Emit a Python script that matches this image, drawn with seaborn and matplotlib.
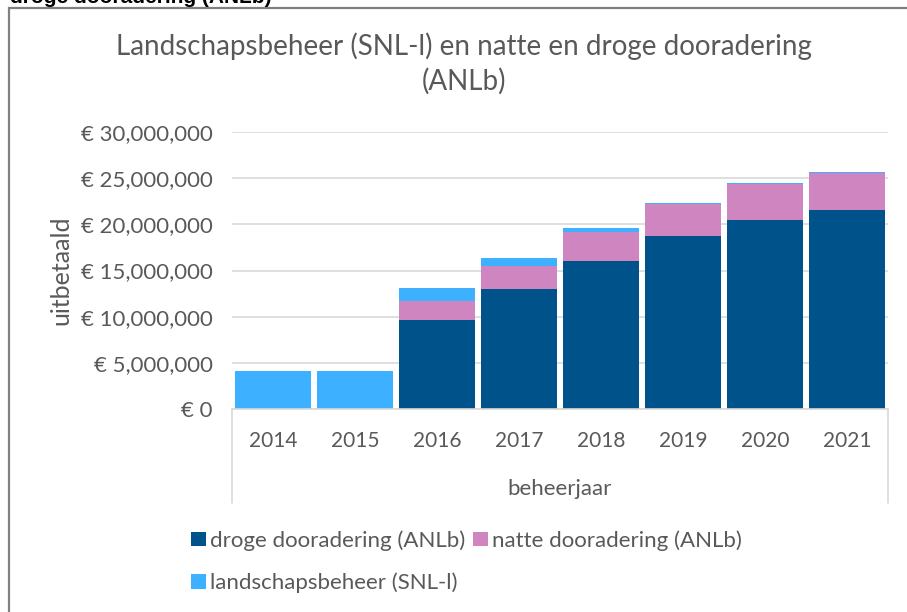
import matplotlib
matplotlib.use("Agg")
import pandas as pd
import seaborn as sns
from matplotlib import pyplot as plt
from matplotlib.lines import Line2D
from matplotlib.patches import Rectangle
from matplotlib.ticker import FuncFormatter

# values (euro)
years = ["2014", "2015", "2016", "2017", "2018", "2019", "2020", "2021"]
droge = [0, 0, 9650000, 13000000, 16050000, 18700000, 20450000, 21600000]
natte = [0, 0, 2050000, 2500000, 3150000, 3450000, 3900000, 4000000]
snl = [4100000, 4100000, 1400000, 800000, 400000, 200000, 100000, 100000]

labels = ["droge dooradering (ANLb)", "natte dooradering (ANLb)", "landschapsbeheer (SNL-l)"]
colors = ["#00538A", "#CF86C0", "#3DB0FF"]
txt = "#595959"

df = pd.DataFrame({"beheerjaar": years, "droge": droge, "natte": natte, "snl": snl})
df["top_natte"] = df["droge"] + df["natte"]
df["top_snl"] = df["top_natte"] + df["snl"]

sns.set_style("white")
plt.rcParams["font.family"] = ["Lato", "DejaVu Sans"]

fig = plt.figure(figsize=(9.07, 6.12), dpi=100)
ax = fig.add_axes([232 / 907, 1 - 409 / 612, 656 / 907, 277 / 612])

# layered stacking: totals first, then the lower segments on top
sns.barplot(data=df, x="beheerjaar", y="top_snl", color=colors[2], width=0.93, linewidth=0, saturation=1, ax=ax)
sns.barplot(data=df, x="beheerjaar", y="top_natte", color=colors[1], width=0.93, linewidth=0, saturation=1, ax=ax)
sns.barplot(data=df, x="beheerjaar", y="droge", color=colors[0], width=0.93, linewidth=0, saturation=1, ax=ax)

ax.set_ylim(0, 30000000)
ax.set_yticks(range(0, 30000001, 5000000))
ax.yaxis.set_major_formatter(FuncFormatter(lambda v, p: f"€ {v:,.0f}"))
ax.grid(axis="y", color="#D9D9D9", linewidth=1.2)
ax.set_axisbelow(True)
for s in ["top", "left", "right"]:
    ax.spines[s].set_visible(False)
ax.spines["bottom"].set_color("#D9D9D9")
ax.spines["bottom"].set_linewidth(1.2)
ax.tick_params(axis="y", length=0, pad=14, labelsize=16, labelcolor=txt)
ax.tick_params(axis="x", length=0, pad=16, labelsize=15, labelcolor=txt)

# box around the category axis, like the Excel multi-level axis
for xx in (0, 1):
    ax.add_line(Line2D([xx, xx], [0, -94 / 277], transform=ax.transAxes,
                       color="#D9D9D9", linewidth=1.2, clip_on=False))

ax.set_xlabel("beheerjaar", fontsize=16, color=txt, labelpad=20)
ax.set_ylabel("uitbetaald", fontsize=18, color=txt, labelpad=6)

fig.text(464 / 907, 1 - 32 / 612, "Landschapsbeheer (SNL-l) en natte en droge dooradering\n(ANLb)",
         ha="center", va="top", fontsize=20, color=txt, linespacing=1.38)

# cropped heading above the chart frame
fig.text(10 / 907, 1 - 3 / 612, "droge dooradering (ANLb)", ha="left", va="baseline",
         fontsize=15, fontweight="bold", color="black", family=["Liberation Sans", "DejaVu Sans"])

fig.patches.append(Rectangle((9 / 907, -0.1), 1.2, 1.1 - 8 / 612, transform=fig.transFigure,
                             fill=False, edgecolor="#808080", linewidth=1.6))

handles = [ax.containers[2][0], ax.containers[0][0], ax.containers[1][0]]
leg_labels = [labels[0], labels[2], labels[1]]
fig.legend(handles, leg_labels, ncol=2, frameon=False, fontsize=16, labelcolor=txt,
           loc="upper left", bbox_to_anchor=(191 / 907, 1 - 530 / 612),
           handlelength=0.68, handleheight=0.63, handletextpad=0.18, columnspacing=0.36,
           labelspacing=1.0, borderpad=0, borderaxespad=0)

fig.savefig("out.png", dpi=100)
